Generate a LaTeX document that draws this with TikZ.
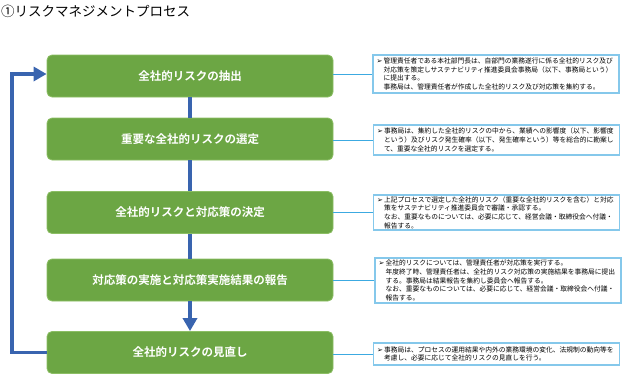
\documentclass[tikz,border=0pt]{standalone}
\usepackage{fontspec}
\newfontfamily\cjk{Noto Sans CJK JP}[BoldFont={Noto Sans CJK JP Bold}]
\newfontfamily\dejavu{DejaVu Sans}
\usetikzlibrary{arrows.meta}
\definecolor{boxgreen}{RGB}{108,166,68}
\definecolor{boxgreenedge}{RGB}{140,190,100}
\definecolor{flowblue}{RGB}{57,100,175}
\definecolor{notebord}{RGB}{133,200,235}
\definecolor{dotblue}{RGB}{60,170,225}
\newcommand{\mk}{\makebox[7pt][l]{\dejavu\fontsize{7}{8}\selectfont ➢}}
\newcommand{\ind}{\hspace*{7pt}}
\begin{document}
\begin{tikzpicture}[x=1pt,y=-1pt,
  stepbox/.style={draw=boxgreenedge,line width=0.8pt,fill=boxgreen,rounded corners=5pt,
    minimum width=286pt,minimum height=42pt,text=white,
    font=\cjk\bfseries\fontsize{11.5}{14}\selectfont},
  notebox/.style={draw=notebord,line width=1.3pt,fill=white,minimum width=246pt,
    text width=239pt,inner xsep=3.5pt,inner ysep=0pt,align=left,
    font=\cjk\fontsize{6.75}{8.7}\selectfont},
  flow/.style={draw=flowblue,line width=3.5pt},
  tip/.style={-{Triangle[width=14pt,length=13pt]}},
  link/.style={draw=dotblue,line width=1pt,dash pattern=on 1.2pt off 0.8pt}]
\useasboundingbox (0,0) rectangle (624,378);
\node[anchor=west,inner sep=0pt,font=\cjk\fontsize{13.5}{16}\selectfont] (title) at (1,11) {①リスクマネジメントプロセス};

\node[stepbox] (b1) at (190,76) {全社的リスクの抽出};
\node[stepbox] (b2) at (190,139) {重要な全社的リスクの選定};
\node[stepbox] (b3) at (190,212.5) {全社的リスクと対応策の決定};
\node[stepbox] (b4) at (190,280) {対応策の実施と対応策実施結果の報告};
\node[stepbox] (b5) at (190,352.5) {全社的リスクの見直し};

\node[notebox,minimum height=38pt] (r1) at (496,74) {\mk 管理責任者である本社部門長は、自部門の業務遂行に係る全社的リスク及び\\
\ind 対応策を策定しサステナビリティ推進委員会事務局（以下、事務局という）\\
\ind に提出する。\\
\ind 事務局は、管理責任者が作成した全社的リスク及び対応策を集約する。};
\node[notebox,minimum height=30pt] (r2) at (496.5,140) {\mk 事務局は、集約した全社的リスクの中から、業績への影響度（以下、影響度\\
\ind という）及びリスク発生確率（以下、発生確率という）等を総合的に勘案し\\
\ind て、重要な全社的リスクを選定する。};
\node[notebox,minimum height=35pt] (r3) at (496.5,212.5) {\mk 上記プロセスで選定した全社的リスク（重要な全社的リスクを含む）と対応\\
\ind 策をサステナビリティ推進委員会で審議・承認する。\\
\ind なお、重要なものについては、必要に応じて、経営会議・取締役会へ付議・\\
\ind 報告する。};
\node[notebox,minimum height=45pt] (r4) at (498,280.5) {\mk 全社的リスクについては、管理責任者が対応策を実行する。\\
\ind 年度終了時、管理責任者は、全社的リスク対応策の実施結果を事務局に提出\\
\ind する。事務局は結果報告を集約し委員会へ報告する。\\
\ind なお、重要なものについては、必要に応じて、経営会議・取締役会へ付議・\\
\ind 報告する。};
\node[notebox,minimum height=22pt] (r5) at (496.5,354) {\mk 事務局は、プロセスの運用結果や内外の業務環境の変化、法規制の動向等を\\
\ind 考慮し、必要に応じて全社的リスクの見直しを行う。};

\draw[flow] (b1.south) -- (b2.north);
\draw[flow] (b2.south) -- (b3.north);
\draw[flow] (b3.south) -- (b4.north);
\draw[flow,tip] (b4.south) -- (b5.north);
\coordinate (lb) at (12,352.5);
\coordinate (lt) at (12,74);
\draw[flow,tip] (b5.west) -- (lb) -- (lt) -- (lt -| b1.west);

\draw[link] (b1.east |- r1.west) -- (r1.west);
\draw[link] (b2.east |- r2.west) -- (r2.west);
\draw[link] (b3.east |- r3.west) -- (r3.west);
\draw[link] (b4.east |- r4.west) -- (r4.west);
\draw[link] (b5.east |- r5.west) -- (r5.west);
\end{tikzpicture}
\end{document}
